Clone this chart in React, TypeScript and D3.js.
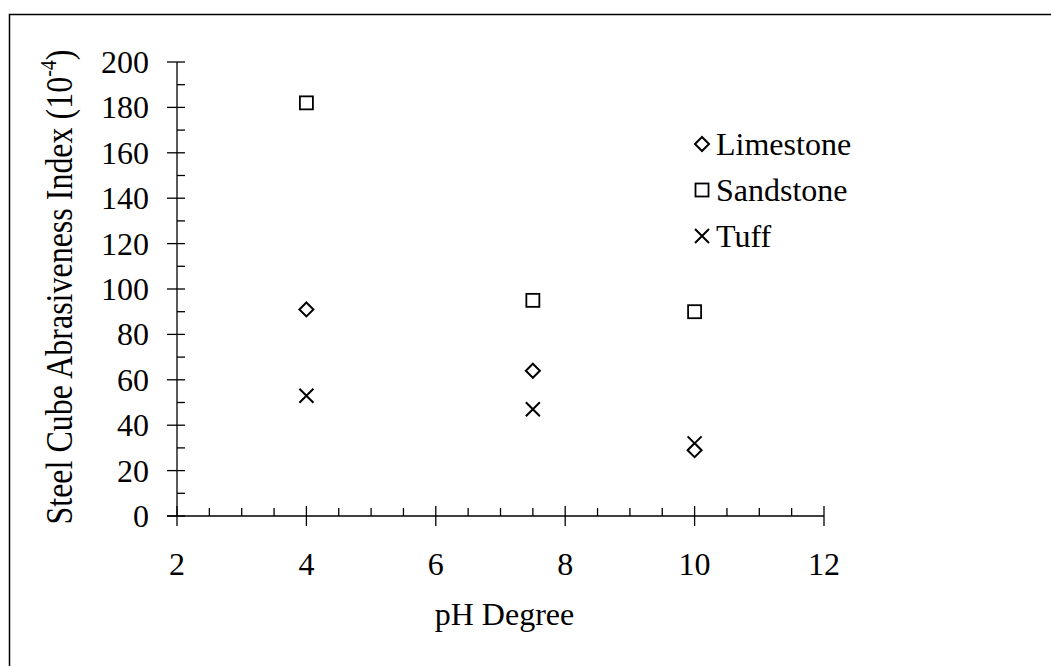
import React, { useEffect, useRef } from "react"
import * as d3 from "d3"

const phValues = [4, 7.5, 10]
const limestone = [91, 64, 29]
const sandstone = [182, 95, 90]
const tuff = [53, 47, 32]
const seriesNames = ["Limestone", "Sandstone", "Tuff"]
const xTicks = [2, 4, 6, 8, 10, 12]
const yTicks = [0, 20, 40, 60, 80, 100, 120, 140, 160, 180, 200]

export default function App() {
  const container = useRef<SVGSVGElement>(null)

  useEffect(() => {
    const svg = d3.select(container.current)
    svg.selectAll("*").remove()

    const font = "'Liberation Serif', 'Times New Roman', serif"

    // outer frame, only top and left edges show
    svg.append("rect")
      .attr("x", 9.5).attr("y", 14.5)
      .attr("width", 1100).attr("height", 700)
      .attr("fill", "none").attr("stroke", "#000").attr("stroke-width", 1.5)

    const x = d3.scaleLinear().domain([2, 12]).range([177, 824])
    const y = d3.scaleLinear().domain([0, 200]).range([516, 62])

    const g = svg.append("g").attr("stroke", "#000").attr("stroke-width", 1.3)

    // y axis
    g.append("line").attr("x1", x(2)).attr("x2", x(2)).attr("y1", y(0)).attr("y2", y(200))
    yTicks.forEach(t => {
      g.append("line").attr("x1", x(2) - 10).attr("x2", x(2) + 8).attr("y1", y(t)).attr("y2", y(t))
    })
    d3.range(10, 200, 20).forEach(t => {
      g.append("line").attr("x1", x(2)).attr("x2", x(2) + 8).attr("y1", y(t)).attr("y2", y(t))
    })

    // x axis
    g.append("line").attr("x1", x(2) - 10).attr("x2", x(12)).attr("y1", y(0)).attr("y2", y(0))
    xTicks.forEach(t => {
      g.append("line").attr("x1", x(t)).attr("x2", x(t)).attr("y1", y(0) - 10).attr("y2", y(0) + 10)
    })
    d3.range(2.5, 12, 0.5).filter(t => t % 2 !== 0).forEach(t => {
      g.append("line").attr("x1", x(t)).attr("x2", x(t)).attr("y1", y(0) - 8).attr("y2", y(0))
    })

    const labels = svg.append("g").attr("font-family", font).attr("font-size", 32).attr("fill", "#000")

    yTicks.forEach(t => {
      labels.append("text").attr("x", 149).attr("y", y(t) + 11)
        .attr("text-anchor", "end").text(t)
    })
    xTicks.forEach(t => {
      labels.append("text").attr("x", x(t)).attr("y", 575)
        .attr("text-anchor", "middle").text(t)
    })

    labels.append("text").attr("x", x(7) + 4).attr("y", 625)
      .attr("text-anchor", "middle").text("pH Degree")

    // the title in the source is drawn a bit stretched across its baseline
    const yTitle = labels.append("text")
      .attr("transform", `translate(72, 287) rotate(-90) scale(1, 1.2)`)
      .attr("text-anchor", "middle")
    yTitle.append("tspan").text("Steel Cube Abrasiveness Index (10")
    yTitle.append("tspan").attr("font-size", 20).attr("dy", -13).text("-4")
    yTitle.append("tspan").attr("dy", 13).text(")")

    const diamond = (sel, cx, cy) => sel.append("path")
      .attr("d", `M${cx},${cy - 7}L${cx + 7},${cy}L${cx},${cy + 7}L${cx - 7},${cy}Z`)
      .attr("fill", "#fff").attr("stroke", "#000").attr("stroke-width", 2)
    const square = (sel, cx, cy) => sel.append("rect")
      .attr("x", cx - 6.5).attr("y", cy - 6.5).attr("width", 13).attr("height", 13)
      .attr("fill", "#fff").attr("stroke", "#000").attr("stroke-width", 1.8)
    const cross = (sel, cx, cy) => sel.append("path")
      .attr("d", `M${cx - 7},${cy - 7}L${cx + 7},${cy + 7}M${cx + 7},${cy - 7}L${cx - 7},${cy + 7}`)
      .attr("stroke", "#000").attr("stroke-width", 2).attr("fill", "none")

    const markers = [diamond, square, cross]
    const series = [limestone, sandstone, tuff]
    const pts = svg.append("g")

    // draw sandstone first, then tuff, then limestone on top
    ;[1, 2, 0].forEach(i => {
      series[i].forEach((v, j) => markers[i](pts, x(phValues[j]), y(v)))
    })

    seriesNames.forEach((name, i) => {
      const cy = 144 + i * 46
      markers[i](pts, 702, cy)
      labels.append("text").attr("x", 716).attr("y", cy + 11).text(name)
    })
  }, [])

  return (
    <svg ref={container} width={1051} height={666}
      style={{ position: "absolute", left: 0, top: 0, background: "#fff" }} />
  )
}
